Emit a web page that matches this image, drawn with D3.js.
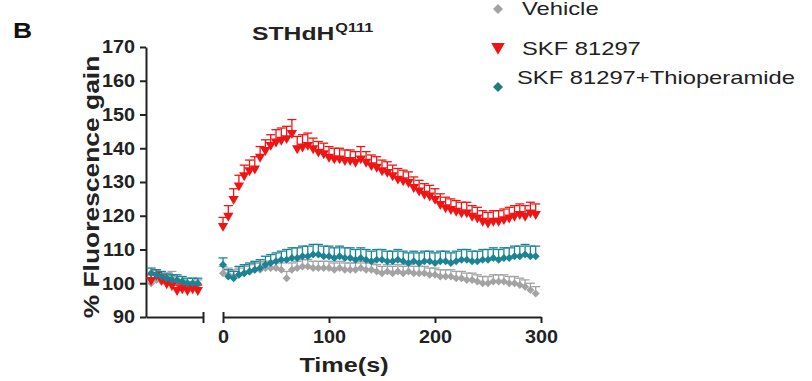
<!DOCTYPE html>
<html>
<head>
<meta charset="utf-8">
<script src="https://cdn.jsdelivr.net/npm/d3@7"></script>
<style>
  body { margin: 0; background: #fff; }
  svg { display: block; font-family: "Liberation Sans", Arial, sans-serif; }
</style>
</head>
<body>
<div id="chart"></div>
<script>
// baseline period (left part of broken axis), seconds
let baseTime = [-60, -55, -50, -45, -40, -35, -30, -25, -20, -15];
let baseVehicle = [100, 101, 100.5, 101, 102, 100.5, 99.5, 99, 99, 99.5];
let baseSKF = [101, 102.5, 101, 100, 99.5, 98, 98.5, 98, 98.5, 98];
let baseThio = [103, 102.5, 102, 101.5, 101, 101, 100.5, 100, 100, 100];
let baseErr = [1.5, 1.5, 1.5, 1.5, 1.5, 1.5, 1.5, 1.5, 1.5, 1.5];

// after stimulation, seconds
let time = [0,5,10,15,20,25,30,35,40,45,50,55,60,65,70,75,80,85,90,95,
  100,105,110,115,120,125,130,135,140,145,150,155,160,165,170,175,180,185,190,195,
  200,205,210,215,220,225,230,235,240,245,250,255,260,265,270,275,280,285,290,295];

let skf = [117,120,125,129,132,133.5,134,137.5,139.5,141,142,142.5,143,144.5,140,140.5,141,140,139,138.5,
  137.5,137,137,136.5,136.5,136,137,136,135,134.5,133.5,133,132,131,130.5,130,128.5,127.5,126.5,126,
  125,123.5,122.5,122,121.5,121,121,120,119.5,118.5,118,118.5,118.5,119,119.5,120,120.5,120,121,120.5];
let skfErr = [2.5,3,3,3,3,3,3.5,3,3,3,3.5,3.5,3.5,4,3.5,3.5,3.5,3,3,3,
  3,3,3,3,3,3,3.5,3,3,3,3,3,3,3,3,3,3,3,3,3,
  3,3,3,3,3,3,3,3,3,3,3,3,3,3,3,3,3,3,3,3];

let thio = [105.5,102,101.5,102.5,103,103.5,104,104.5,105.5,106,106.5,107,107,107.5,107.5,108,108,108.5,108.5,108,
  108,107.5,108,107.5,107.5,107,107.5,107,106.5,107,107,106.5,106.5,107,106.5,106,106.5,106,106.5,106.5,
  106,106.5,106.5,106,106.5,107,107,106.5,106.5,107,107,107.5,107,107.5,107.5,108,108,108.5,108,108];
let thioErr = [2,2,2,2.5,2.5,2.5,2.5,2.5,2.5,2.5,2.5,2.5,3,3,3,3,3,3,3,3,
  3,3,3,3,3,3,3,3,3,3,3,3,3,3,3,3,3,3,3,3,
  3,3,3,3,3,3,3,3,3,3,3,3,3,3,3,3,3,3,3,3];

let vehicle = [103,102.5,102,102.5,103,103.5,104,104,104.5,104.5,104.5,104,101.5,104,104.5,105,105,104.5,104.5,104.5,
  104.5,104,104.5,104,104,104,104.5,104,104,103.5,103,103.5,103,103.5,103,103.5,103,103,103,102.5,
  102.5,102,102,102,101.5,101.5,101,101,100.5,100,100,100.5,100.5,100.5,100,100,99.5,99,98,97];
let vehicleErr = [2,2,2,2,2,2,2,2,2,2,2,2,2,2,2,2,2,2,2,2,
  2,2,2,2,2,2,2,2,2,2,2,2,2,2,2,2,2,2,2,2,
  2,2,2,2,2,2,2,2,2,2,2,2,2,2,2,2,2,2,2,2];

let yTicks = [90, 100, 110, 120, 130, 140, 150, 160, 170];
let xTicks = [0, 100, 200, 300];

let series = [
  { name: "Vehicle", base: baseVehicle, vals: vehicle, err: vehicleErr, color: "#a3a3a3", shape: "diamond" },
  { name: "SKF 81297", base: baseSKF, vals: skf, err: skfErr, color: "#f01414", shape: "triangle" },
  { name: "SKF 81297+Thioperamide", base: baseThio, vals: thio, err: thioErr, color: "#1a8494", shape: "diamond" }
];

let svgwidth = 812, svgheight = 381;
let svg = d3.select("#chart").append("svg")
  .attr("width", svgwidth).attr("height", svgheight);

// the figure's lettering is wider than Arial, stretch each text along its direction
function stretch(sel, f) {
  sel.each(function() {
    let w = this.getComputedTextLength();
    d3.select(this).attr("textLength", w * f).attr("lengthAdjust", "spacingAndGlyphs");
  });
}

let yScale = d3.scaleLinear().domain([90, 170]).range([317, 47]);
let xLeft = d3.scaleLinear().domain([-65, -10]).range([146, 203]);
let xRight = d3.scaleLinear().domain([0, 300]).range([223, 541]);

// y axis
let yAxis = svg.append("g").attr("transform", "translate(146,0)")
  .call(d3.axisLeft(yScale).tickValues(yTicks).tickSize(6).tickSizeOuter(0).tickPadding(5));
yAxis.selectAll("text").attr("font-size", "18px").attr("font-weight", "bold").attr("fill", "#222")
  .attr("font-family", "Liberation Sans, Arial, sans-serif");

// broken x axis: left piece
let xAxisL = svg.append("g").attr("transform", "translate(0,317)")
  .call(d3.axisBottom(xLeft).tickValues([-10]).tickSize(6).tickSizeOuter(0).tickFormat(""));
xAxisL.selectAll(".tick line").attr("y1", -5);

// right piece
let xAxisR = svg.append("g").attr("transform", "translate(0,317)")
  .call(d3.axisBottom(xRight).tickValues(xTicks).tickSize(6).tickSizeOuter(0).tickPadding(7));
xAxisR.selectAll(".tick line").filter(d => d === 0).attr("y1", -5);
xAxisR.selectAll("text").attr("font-size", "18px").attr("font-weight", "bold").attr("fill", "#222")
  .attr("font-family", "Liberation Sans, Arial, sans-serif");

svg.selectAll(".domain, .tick line").attr("stroke", "#222").attr("stroke-width", 2);
stretch(yAxis.selectAll("text"), 1.1);
stretch(xAxisR.selectAll("text"), 1.1);

function symPath(shape, size) {
  if (shape === "triangle") return d3.symbol().type(d3.symbolTriangle).size(size)();
  return d3.symbol().type(d3.symbolSquare).size(size)();
}
function symRot(shape) {
  return shape === "triangle" ? 180 : 45;
}

let plot = svg.append("g");
series.forEach(function(s) {
  let pts = baseTime.map((t, j) => ({ x: xLeft(t), v: s.base[j], e: baseErr[j] }))
    .concat(time.map((t, j) => ({ x: xRight(t), v: s.vals[j], e: s.err[j] })));
  let g = plot.append("g");
  // error bars (upper only)
  g.selectAll("line.bar").data(pts).enter().append("line")
    .attr("x1", d => d.x).attr("x2", d => d.x)
    .attr("y1", d => yScale(d.v)).attr("y2", d => yScale(d.v + d.e))
    .attr("stroke", s.color).attr("stroke-width", 1.3);
  g.selectAll("line.cap").data(pts).enter().append("line")
    .attr("x1", d => d.x - 4.5).attr("x2", d => d.x + 4.5)
    .attr("y1", d => yScale(d.v + d.e)).attr("y2", d => yScale(d.v + d.e))
    .attr("stroke", s.color).attr("stroke-width", 1.3);
  g.selectAll("path").data(pts).enter().append("path")
    .attr("d", symPath(s.shape, s.shape === "triangle" ? 46 : 32))
    .attr("transform", d => `translate(${d.x},${yScale(d.v)}) rotate(${symRot(s.shape)})`)
    .attr("fill", s.color);
});

// texts
let panel = svg.append("text").attr("x", 13).attr("y", 38).attr("font-size", "22px").attr("font-weight", "bold")
  .attr("fill", "#111").text("B");
stretch(panel, 1.2);

let title = svg.append("text").attr("x", 252).attr("y", 40).attr("font-size", "19px")
  .attr("font-weight", "bold").attr("fill", "#222").text("STHdH");
stretch(title, 1.3);
let titleEnd = 252 + (+title.attr("textLength")) + 1;
let sup = svg.append("text").attr("x", titleEnd).attr("y", 32).attr("font-size", "13px")
  .attr("font-weight", "bold").attr("fill", "#222").text("Q111");
stretch(sup, 1.25);

let ylab = svg.append("text").attr("transform", "translate(99,187) rotate(-90)")
  .attr("text-anchor", "middle").attr("font-size", "22px").attr("font-weight", "bold")
  .attr("fill", "#222").text("% Fluorescence gain");
stretch(ylab, 1.2);

let xlab = svg.append("text").attr("x", 344).attr("y", 372).attr("text-anchor", "middle")
  .attr("font-size", "21px").attr("font-weight", "bold").attr("fill", "#222").text("Time(s)");
stretch(xlab, 1.2);

// legend
let legY = [9, 47, 87];
let legBase = [15, 55, 84];
let legX = [522, 522, 517];
series.forEach(function(s, i) {
  svg.append("path")
    .attr("d", symPath(s.shape, s.shape === "triangle" ? 80 : 50))
    .attr("transform", `translate(498,${legY[i]}) rotate(${symRot(s.shape)})`)
    .attr("fill", i === 2 ? "#1d7f7a" : s.color);
  let t = svg.append("text").attr("x", legX[i]).attr("y", legBase[i])
    .attr("font-size", "19px").attr("fill", "#222").text(s.name);
  stretch(t, 1.25);
});
</script>
</body>
</html>
